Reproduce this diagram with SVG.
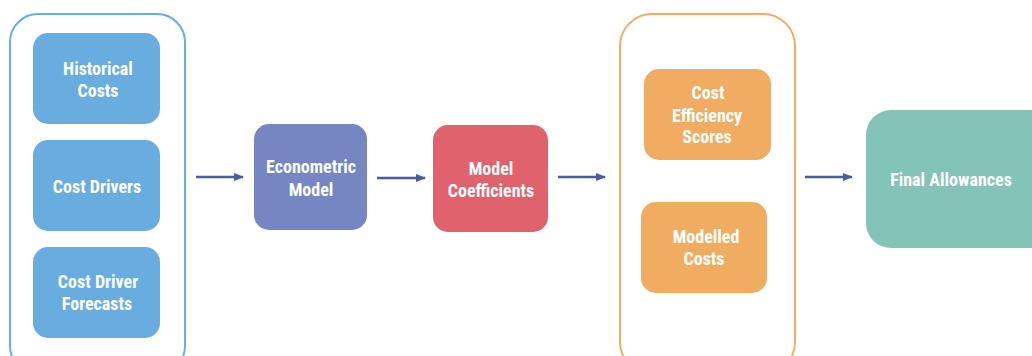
<svg xmlns="http://www.w3.org/2000/svg" width="1032" height="356" viewBox="0 0 1032 356">
<defs>
<style>
.t{font-family:'Liberation Sans Narrow','Roboto Condensed','Arial Narrow','Liberation Sans',sans-serif;font-weight:bold;font-size:18px;fill:#ffffff;text-anchor:middle}
.blue{fill:#69ace0}
.cont{fill:none;stroke-width:2}
.conn{stroke:#4a5d9c;stroke-width:2.5;fill:none}
</style>
<marker id="ah" viewBox="0 0 10 10" refX="9" refY="5" markerWidth="4" markerHeight="4" orient="auto" markerUnits="strokeWidth">
<path d="M0,1 L10,5 L0,9 z" fill="#4a5d9c"/>
</marker>
</defs>
<rect width="1032" height="356" fill="#ffffff"/>
<g id="inputs-group">
<rect class="cont" x="10" y="14" width="175" height="360" rx="28" stroke="#6aaee0"/>
</g>
<g id="historical-costs">
<rect class="blue" x="33" y="33" width="127" height="91" rx="15"/>
<text class="t" x="98" y="75">Historical</text>
<text class="t" x="98" y="97">Costs</text>
</g>
<g id="cost-drivers">
<rect class="blue" x="33" y="140" width="127" height="91" rx="15"/>
<text class="t" x="97" y="193">Cost Drivers</text>
</g>
<g id="cost-driver-forecasts">
<rect class="blue" x="33" y="247" width="127" height="91" rx="15"/>
<text class="t" x="98" y="288">Cost Driver</text>
<text class="t" x="97" y="310">Forecasts</text>
</g>
<g id="econometric-model">
<rect x="254" y="124" width="113" height="106" rx="15" fill="#7586c3"/>
<text class="t" x="311" y="173">Econometric</text>
<text class="t" x="311" y="196">Model</text>
</g>
<g id="model-coefficients">
<rect x="433" y="125" width="115" height="107" rx="15" fill="#e0626c"/>
<text class="t" x="491" y="175">Model</text>
<text class="t" x="491" y="197">Coefficients</text>
</g>
<g id="outputs-group">
<rect class="cont" x="620" y="14" width="175" height="360" rx="32" stroke="#f0ad62"/>
</g>
<g id="cost-efficiency-scores">
<rect x="644" y="69" width="127" height="91" rx="15" fill="#f0ad62"/>
<text class="t" x="708" y="99">Cost</text>
<text class="t" x="707" y="122">Efficiency</text>
<text class="t" x="707" y="143">Scores</text>
</g>
<g id="modelled-costs">
<rect x="641" y="202" width="126" height="91" rx="15" fill="#f0ad62"/>
<text class="t" x="706" y="243">Modelled</text>
<text class="t" x="704" y="265">Costs</text>
</g>
<g id="final-allowances">
<rect x="866" y="110" width="190" height="138" rx="25" fill="#84c3b7"/>
<text class="t" x="951" y="186">Final Allowances</text>
</g>
<g id="connectors">
<line class="conn" x1="196" y1="177" x2="243" y2="177" marker-end="url(#ah)"/>
<line class="conn" x1="377" y1="178" x2="425" y2="178" marker-end="url(#ah)"/>
<line class="conn" x1="558" y1="177" x2="605" y2="177" marker-end="url(#ah)"/>
<line class="conn" x1="805" y1="177" x2="852" y2="177" marker-end="url(#ah)"/>
</g>
</svg>
